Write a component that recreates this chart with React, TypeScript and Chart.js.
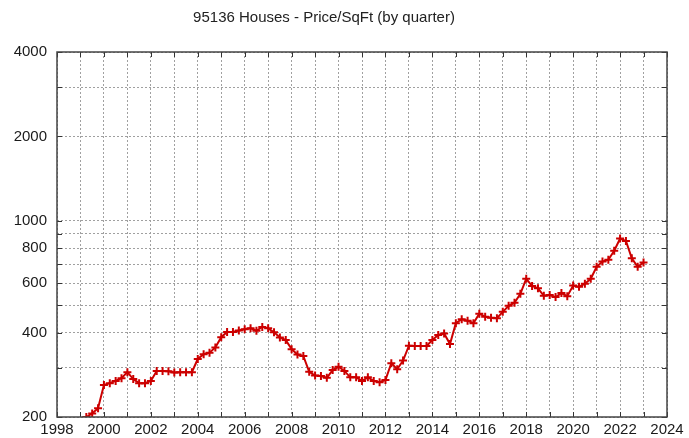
import React, { useEffect, useRef } from "react";
import { Chart, registerables } from "chart.js";

Chart.register(...registerables);

const TITLE = "95136 Houses - Price/SqFt (by quarter)";
const FIRST_QUARTER = 1999.25; // first data point (year fraction), one point per quarter
const priceValues = [
  200, 206, 215,
  260, 264, 269, 275,
  289, 273, 264, 264,
  269, 292, 292, 291,
  288, 289, 289, 289,
  322, 335, 339, 354,
  385, 402, 402, 407,
  411, 414, 406, 419,
  414, 401, 384, 376,
  349, 334, 330, 290,
  281, 280, 276, 294,
  302, 292, 277, 277,
  269, 277, 269, 266,
  271, 311, 296, 318,
  359, 358, 358, 358,
  376, 392, 397, 364,
  432, 446, 441, 432,
  467, 455, 452, 450,
  474, 498, 511, 550,
  622, 586, 575, 541,
  544, 535, 553, 539,
  588, 582, 597, 622,
  686, 716, 727, 783,
  865, 848, 736, 686,
  711,
];
const yGridValues = [200, 300, 400, 500, 600, 700, 800, 900, 1000, 2000, 3000, 4000];
const yLabelValues = [200, 400, 600, 800, 1000, 2000, 4000];
const xMin = 1998;
const xMax = 2024;
const xLabelStep = 2;

const FONT = "'Liberation Sans', Arial, sans-serif";

const titlePlugin = {
  id: "customTitle",
  afterDraw(chart: any) {
    const { ctx } = chart;
    ctx.save();
    ctx.font = `15px ${FONT}`;
    ctx.fillStyle = "#222";
    ctx.textAlign = "center";
    ctx.textBaseline = "middle";
    ctx.fillText(TITLE, 324, 18);
    ctx.restore();
  },
};

const framePlugin = {
  id: "frame",
  afterDraw(chart: any) {
    const { ctx, chartArea: a, scales } = chart;
    ctx.save();
    ctx.strokeStyle = "#333";
    ctx.lineWidth = 1;
    ctx.beginPath();
    for (let v = xMin; v <= xMax; v++) {
      const px = Math.round(scales.x.getPixelForValue(v)) + 0.5;
      ctx.moveTo(px, a.bottom);
      ctx.lineTo(px, a.bottom - 5);
      ctx.moveTo(px, a.top);
      ctx.lineTo(px, a.top + 5);
    }
    for (const v of yGridValues) {
      const py = Math.round(scales.y.getPixelForValue(v)) + 0.5;
      ctx.moveTo(a.left, py);
      ctx.lineTo(a.left + 5, py);
      ctx.moveTo(a.right, py);
      ctx.lineTo(a.right - 5, py);
    }
    ctx.stroke();
    ctx.lineWidth = 1.5;
    ctx.strokeStyle = "#444";
    ctx.strokeRect(a.left, a.top, a.right - a.left, a.bottom - a.top);
    ctx.restore();
  },
};

export default function App() {
  const ref = useRef<HTMLCanvasElement>(null);

  useEffect(() => {
    if (!ref.current) return;
    const chart = new Chart(ref.current, {
      type: "line",
      data: {
        datasets: [
          {
            data: priceValues.map((v, i) => ({ x: FIRST_QUARTER + i / 4, y: v })),
            borderColor: "#cc0000",
            backgroundColor: "#cc0000",
            borderWidth: 2,
            pointStyle: "cross",
            pointRadius: 4,
            pointBorderWidth: 2,
            pointBorderColor: "#cc0000",
            tension: 0,
            fill: false,
          },
        ],
      },
      options: {
        responsive: false,
        animation: false,
        layout: { padding: { top: 52, right: 22, left: 0, bottom: 0 } },
        plugins: {
          legend: { display: false },
          title: { display: false },
          tooltip: { enabled: false },
        },
        scales: {
          x: {
            type: "linear",
            min: xMin,
            max: xMax,
            afterFit: (s: any) => {
              s.height = 21;
            },
            afterBuildTicks: (s: any) => {
              const t = [];
              for (let v = xMin; v <= xMax; v++) t.push({ value: v });
              s.ticks = t;
            },
            ticks: {
              autoSkip: false,
              maxRotation: 0,
              padding: 4,
              color: "#1a1a1a",
              font: { family: FONT, size: 15 },
              callback: (v: any) => (Number(v) % xLabelStep === 0 ? String(v) : ""),
            },
            grid: {
              color: "#a0a0a0",
              lineWidth: 1,
              drawTicks: false,
              tickLength: 0,
            },
            border: { display: false, dash: [2, 2] },
          },
          y: {
            type: "logarithmic",
            min: 200,
            max: 4000,
            afterFit: (s: any) => {
              s.width = 57;
            },
            afterBuildTicks: (s: any) => {
              s.ticks = yGridValues.map((v) => ({ value: v }));
            },
            ticks: {
              autoSkip: false,
              padding: 10,
              color: "#1a1a1a",
              font: { family: FONT, size: 15 },
              callback: (v: any) => (yLabelValues.includes(Number(v)) ? String(v) : ""),
            },
            grid: {
              color: "#a0a0a0",
              lineWidth: 1,
              drawTicks: false,
              tickLength: 0,
            },
            border: { display: false, dash: [2, 2] },
          },
        },
      },
      plugins: [titlePlugin, framePlugin],
    } as any);
    return () => chart.destroy();
  }, []);

  return (
    <div style={{ position: "absolute", left: 0, top: 0, width: 689, height: 438, background: "#fff" }}>
      <canvas ref={ref} width={689} height={438} />
    </div>
  );
}
